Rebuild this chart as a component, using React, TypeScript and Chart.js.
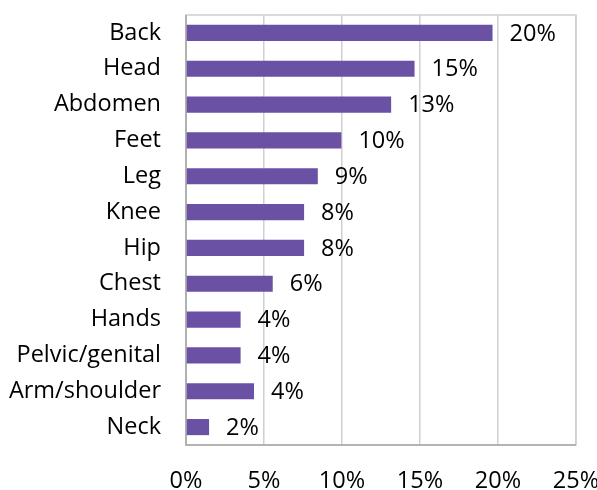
import React, { useEffect, useRef } from "react";
import { Chart, registerables } from "chart.js";

Chart.register(...registerables);

const categories = ["Back", "Head", "Abdomen", "Feet", "Leg", "Knee", "Hip", "Chest", "Hands", "Pelvic/genital", "Arm/shoulder", "Neck"];
const values = [19.65, 14.65, 13.15, 9.96, 8.45, 7.57, 7.57, 5.56, 3.5, 3.5, 4.36, 1.48];
const valueLabels = ["20%", "15%", "13%", "10%", "9%", "8%", "8%", "6%", "4%", "4%", "4%", "2%"];
const xTicks = [0, 5, 10, 15, 20, 25];

const FONT = "'Open Sans', sans-serif";
const FONT_SIZE = 23.5;

const valueLabelPlugin = {
  id: "valueLabels",
  afterDatasetsDraw(chart: any) {
    const ctx = chart.ctx;
    const meta = chart.getDatasetMeta(0);
    ctx.save();
    ctx.font = `${FONT_SIZE}px ${FONT}`;
    ctx.fillStyle = "#000000";
    ctx.textAlign = "left";
    ctx.textBaseline = "middle";
    meta.data.forEach((bar: any, i: number) => {
      ctx.fillText(valueLabels[i], bar.x + 17, bar.y + 1);
    });
    ctx.restore();
  },
};

const borderPlugin = {
  id: "plotBorder",
  beforeDatasetsDraw(chart: any) {
    const { ctx, chartArea } = chart;
    ctx.save();
    ctx.strokeStyle = "#d0d0d0";
    ctx.lineWidth = 1.5;
    ctx.strokeRect(chartArea.left, chartArea.top, chartArea.right - chartArea.left, chartArea.bottom - chartArea.top);
    ctx.strokeStyle = "#a6a6a6";
    ctx.beginPath();
    ctx.moveTo(chartArea.left, chartArea.top);
    ctx.lineTo(chartArea.left, chartArea.bottom);
    ctx.lineTo(chartArea.right, chartArea.bottom);
    ctx.stroke();
    ctx.restore();
  },
};

export default function App() {
  const ref = useRef<HTMLCanvasElement | null>(null);
  useEffect(() => {
    if (!ref.current) return;
    const chart = new Chart(ref.current, {
      type: "bar",
      data: {
        labels: categories,
        datasets: [
          {
            data: values,
            backgroundColor: "#6a51a3",
            borderWidth: 0,
            categoryPercentage: 0.9,
            barPercentage: 0.5,
          },
        ],
      },
      options: {
        indexAxis: "y",
        animation: false,
        responsive: false,
        layout: { padding: { top: 15, right: 21, left: 0, bottom: 0 } },
        plugins: { legend: { display: false }, tooltip: { enabled: false } },
        scales: {
          x: {
            min: 0,
            max: 25,
            afterBuildTicks(scale: any) {
              scale.ticks = xTicks.map((v) => ({ value: v }));
            },
            afterFit(scale: any) {
              scale.height = 45;
              scale.paddingLeft = 0;
              scale.paddingRight = 0;
            },
            ticks: {
              callback: (v: any) => `${v}%`,
              font: { family: FONT, size: FONT_SIZE },
              color: "#000000",
              padding: 22,
              maxRotation: 0,
            },
            grid: { color: "#d0d0d0", lineWidth: 1.5, drawTicks: false },
            border: { display: false },
          },
          y: {
            afterFit(scale: any) {
              scale.width = 186;
              scale.paddingTop = 0;
              scale.paddingBottom = 0;
            },
            ticks: {
              font: { family: FONT, size: FONT_SIZE },
              color: "#000000",
              padding: 25,
            },
            grid: { display: false, drawTicks: false },
            border: { display: false },
          },
        },
      },
      plugins: [borderPlugin, valueLabelPlugin],
    });
    return () => chart.destroy();
  }, []);
  return (
    <div style={{ position: "fixed", left: 0, top: 0, width: 597, height: 490, background: "#fff" }}>
      <canvas ref={ref} width={597} height={490} style={{ width: 597, height: 490 }} />
    </div>
  );
}
